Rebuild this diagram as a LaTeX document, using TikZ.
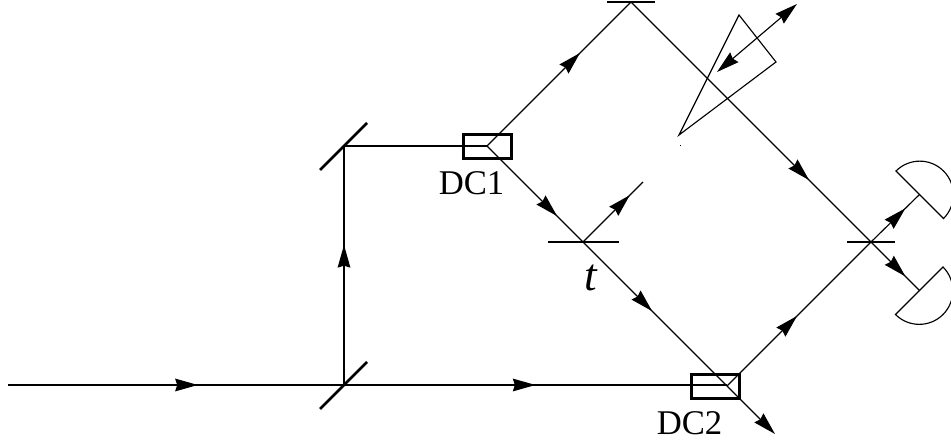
\documentclass[tikz,border=0pt]{standalone}
\usepackage{fontspec}
\setmainfont{Liberation Serif}
\usetikzlibrary{arrows.meta,decorations.markings}
\tikzset{
    >={Stealth[length=17pt, width=9.5pt, inset=1.5pt]},
    beam/.style={line width=0.85pt},
    tipbeam/.style={beam, postaction={decorate}, decoration={markings, mark=at position #1 with {\arrow{>}}}},
    plate/.style={line width=2pt},
    coupler/.style={draw, line width=1.7pt, minimum width=36pt, minimum height=18pt, inner sep=0pt},
    caption/.style={font=\fontsize{26}{30}\selectfont, inner sep=0pt}
}

\begin{document}
\begin{tikzpicture}[x=0.75pt, y=0.75pt]
    \useasboundingbox (0,0) rectangle (951,442);

    % beam junctions
    \coordinate (source) at (8,57);
    \coordinate (split) at (344,57);
    \coordinate (fold) at (344,296);
    \coordinate (mix1) at (487,296);
    \coordinate (topm) at (631,440);
    \coordinate (tee) at (583,200);
    \coordinate (mix2) at (727,56);
    \coordinate (out) at (871,200);
    \coordinate (det1) at (919.5,247.5);
    \coordinate (det2) at (919.5,151.5);
    \coordinate (refl) at (643,260);
    \coordinate (drop) at (775,8);

    % beams
    \draw[tipbeam=0.565] (source) -- (split);
    \draw[tipbeam=0.5] (split) -- (mix2 |- split);
    \draw[tipbeam=0.586] (split) -- (fold);
    \draw[beam] (fold) -- (mix1);
    \draw[tipbeam=0.646] (mix1) -- (topm);
    \draw[tipbeam=0.742] (topm) -- (out);
    \draw[tipbeam=0.73] (mix1) -- (tee);
    \draw[tipbeam=0.48] (tee) -- (mix2);
    \draw[tipbeam=0.78] (tee) -- (refl);
    \draw[tipbeam=0.486] (mix2) -- (out);
    \draw[tipbeam=0.71] (out) -- (det1);
    \draw[tipbeam=0.71] (out) -- (det2);
    \draw[beam, ->] (mix2) -- (drop);

    % mirrors and plates
    \draw[plate] ([shift={(-24,-24)}]split) -- ([shift={(23,23)}]split);
    \draw[plate] ([shift={(-24,-24)}]fold) -- ([shift={(23,23)}]fold);
    \draw[plate] ([xshift=-18pt]topm) -- ([xshift=18pt]topm);
    \draw[plate] ([xshift=-26pt]tee) -- ([xshift=27pt]tee);
    \draw[plate] ([xshift=-18pt]out) -- ([xshift=18pt]out);

    % couplers
    \node[coupler] (dc1) at (487.5,295.5) {};
    \node[coupler] (dc2) at (715.5,55.5) {};
    \node[caption] (dc1label) at (471.5,258.5) {DC1};
    \node[caption] (dc2label) at (689.5,18.5) {DC2};
    \node[font=\fontsize{34}{38}\selectfont\itshape, inner sep=0pt] (tlabel) at (591,164) {t};

    % wedge
    \coordinate (wedgea) at (739,427);
    \coordinate (wedgeb) at (776,380);
    \coordinate (wedgec) at (679,307);
    \draw[beam] (wedgea) -- (wedgeb) -- (wedgec) -- cycle;
    \coordinate (shifta) at (717,370);
    \coordinate (shiftb) at (797,438);
    \draw[beam, <->] (shifta) -- (shiftb);
    \fill (679.5,295.5) rectangle (681,296.5);

    % detectors
    \draw[beam] (896,271) arc[start angle=135, end angle=-45, radius=25.2pt] -- cycle;
    \draw[beam] (943,175) arc[start angle=45, end angle=-135, radius=25.2pt] -- cycle;
\end{tikzpicture}
\end{document}
